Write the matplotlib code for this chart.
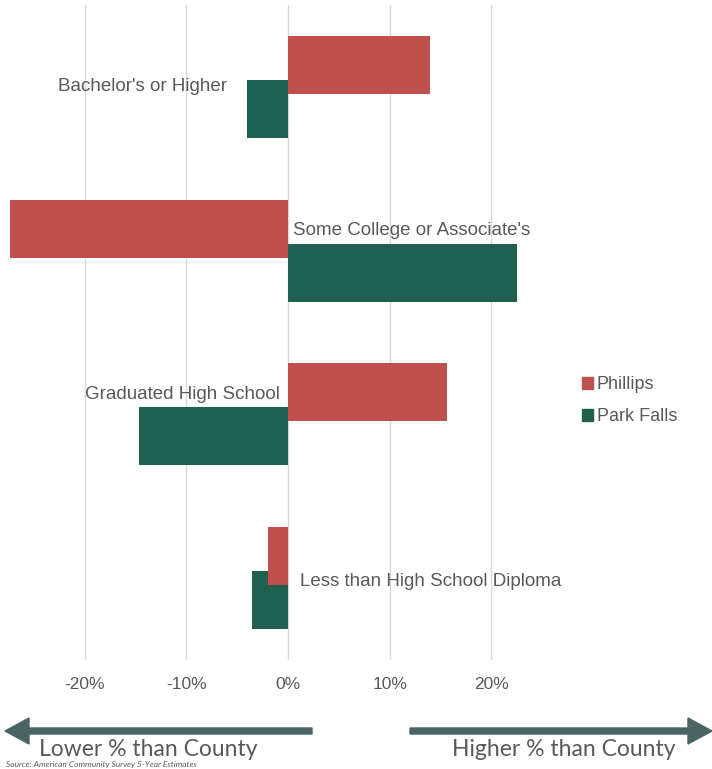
import numpy as np
import matplotlib.pyplot as plt
from matplotlib.patches import Patch, FancyArrow

plt.rcParams['font.family'] = ['Liberation Sans', 'DejaVu Sans']

# Difference from county share, by education level
categories = ["Bachelor's or Higher", "Some College or Associate's",
              "Graduated High School", "Less than High School Diploma"]
phillips = [0.140, -0.273, 0.156, -0.020]
park_falls = [-0.040, 0.225, -0.147, -0.035]
xticks = [-0.2, -0.1, 0.0, 0.1, 0.2]
xtick_labels = ['-20%', '-10%', '0%', '10%', '20%']

RED = '#C0504D'
GREEN = '#206050'
GRAY = '#595959'
ARROW = '#4A6464'

W, H = 712, 769
fig = plt.figure(figsize=(W / 100, H / 100), dpi=100)

# plot area in pixels: x 0..560, y 5..660
ax = fig.add_axes([0, 1 - 660 / H, 560 / W, 655 / H])

y = np.arange(len(categories))
h = 0.354
off = 0.134
ax.barh(y - off, phillips, height=h, color=RED, label='Phillips', zorder=3)
ax.barh(y + off, park_falls, height=h, color=GREEN, label='Park Falls', zorder=2)

ax.set_xlim(-288 / 1017, (560 - 288) / 1017)
ax.set_ylim(3.5, -0.5)
ax.set_xticks(xticks)
ax.set_xticklabels(xtick_labels, color=GRAY, fontsize=12.5)
ax.tick_params(axis='x', length=0, pad=12)
ax.set_yticks([])
ax.grid(axis='x', color='#D9D9D9', linewidth=1, zorder=0)
for s in ax.spines.values():
    s.set_visible(False)

# category labels, placed next to the bars like the original data labels
lab_kw = dict(color=GRAY, fontsize=13.5, va='center')
ax.text(-0.060, y[0], categories[0], ha='right', **lab_kw)
ax.text(0.005, y[1] - 0.12, categories[1], ha='left', **lab_kw)
ax.text(-0.008, y[2] - 0.12, categories[2], ha='right', **lab_kw)
ax.text(0.012, y[3] + 0.02, categories[3], ha='left', **lab_kw)

handles = [Patch(color=RED), Patch(color=GREEN)]
fig.legend(handles, ['Phillips', 'Park Falls'], loc='upper left',
           bbox_to_anchor=(573 / W, 1 - 367 / H), frameon=False,
           fontsize=13, labelcolor=GRAY, handlelength=0.62, handleheight=0.62,
           handletextpad=0.2, labelspacing=0.85, borderpad=0)

# direction arrows under the axis
ay = 1 - 731 / H
fig.patches.append(FancyArrow(312 / W, ay, -307 / W, 0, width=6 / H,
                              head_width=26 / H, head_length=24 / W,
                              length_includes_head=True, color=ARROW,
                              transform=fig.transFigure, figure=fig))
fig.patches.append(FancyArrow(410 / W, ay, 302 / W, 0, width=6 / H,
                              head_width=26 / H, head_length=24 / W,
                              length_includes_head=True, color=ARROW,
                              transform=fig.transFigure, figure=fig))

arr_kw = dict(color=GRAY, fontsize=16.5, family='Lato', va='center', ha='center')
fig.text(148 / W, 1 - 750 / H, 'Lower % than County', **arr_kw)
fig.text(564 / W, 1 - 750 / H, 'Higher % than County', **arr_kw)

fig.text(6 / W, 0.5 / H, 'Source: American Community Survey 5-Year Estimates',
         color=GRAY, fontsize=6, family='Lato', style='italic', va='bottom')

fig.savefig('out.png', dpi=100)
